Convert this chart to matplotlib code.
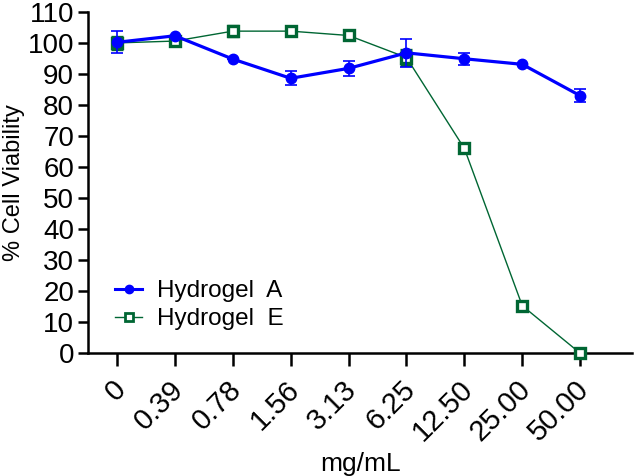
"""
Cell viability of two hydrogels across a concentration series.
"""
import matplotlib
matplotlib.use('Agg')
import matplotlib.pyplot as plt
from matplotlib.lines import Line2D
from matplotlib.transforms import ScaledTranslation

plt.rcParams['font.family'] = ['Liberation Sans', 'DejaVu Sans']

concentrations = ['0', '0.39', '0.78', '1.56', '3.13', '6.25',
                  '12.50', '25.00', '50.00']
hydrogel_a = [100.2, 102.3, 94.8, 88.6, 91.8, 96.8, 94.9, 93.1, 83.0]
hydrogel_a_err = [3.5, 0.0, 0.0, 2.2, 2.5, 4.6, 2.0, 0.0, 2.2]
hydrogel_e = [100.0, 100.6, 103.8, 103.8, 102.4, 95.3, 66.0, 15.3, 0.0]
hydrogel_e_err = [2.0, 0.0, 1.5, 0.0, 0.0, 2.5, 0.0, 0.0, 0.0]

BLUE = '#0000ff'
GREEN = '#006633'

fig = plt.figure(figsize=(6.38, 4.76), dpi=100)
ax = fig.add_axes([0.138, 0.258, 0.853, 0.717])

x = list(range(len(concentrations)))

ax.errorbar(
    x, hydrogel_e, yerr=hydrogel_e_err, color=GREEN, lw=1.0,
    marker='s', ms=7, mfc='white', mec=GREEN, mew=2.4,
    ecolor=GREEN, elinewidth=1.2, capsize=4, capthick=1.2,
    clip_on=False, zorder=3)
ax.errorbar(
    x, hydrogel_a, yerr=hydrogel_a_err, color=BLUE, lw=2.3,
    marker='o', ms=7.5, mfc=BLUE, mec=BLUE,
    ecolor=BLUE, elinewidth=1.2, capsize=4, capthick=1.2,
    clip_on=False, zorder=4)

# axes format
ax.set_ylim(0, 110)
ax.set_xlim(-0.5, 8.9)
ax.set_yticks(range(0, 111, 10))
ax.set_xticks(x)
ax.set_xticklabels(concentrations, rotation=45, ha='right', va='center',
                   rotation_mode='anchor')
for side in ('top', 'right'):
    ax.spines[side].set_visible(False)
for side in ('left', 'bottom'):
    ax.spines[side].set_linewidth(1.8)
ax.tick_params(axis='both', width=1.8, length=7, labelsize=20, pad=3)
ax.tick_params(axis='x', length=9, pad=14, labelsize=21)
# nudge rotated labels a few pixels right, like the original
shift = ScaledTranslation(3 / 72, 0, fig.dpi_scale_trans)
for lbl in ax.get_xticklabels():
    lbl.set_transform(lbl.get_transform() + shift)
ax.set_ylabel('% Cell Viability', fontsize=17, labelpad=2)
ax.set_xlabel('mg/mL', fontsize=19, labelpad=4)

handles = [
    Line2D([], [], color=BLUE, lw=2.2, marker='o', ms=6, mfc=BLUE),
    Line2D([], [], color=GREEN, lw=1.0, marker='s', ms=5.5, mfc='white',
           mec=GREEN, mew=2.0),
]
ax.legend(handles, ['Hydrogel  A', 'Hydrogel  E'], loc='center left',
          bbox_to_anchor=(0.05, 0.141), frameon=False, fontsize=17.5,
          handlelength=1.1, handletextpad=0.6, labelspacing=0.25,
          borderpad=0, borderaxespad=0)

fig.savefig('out.png', dpi=100)
